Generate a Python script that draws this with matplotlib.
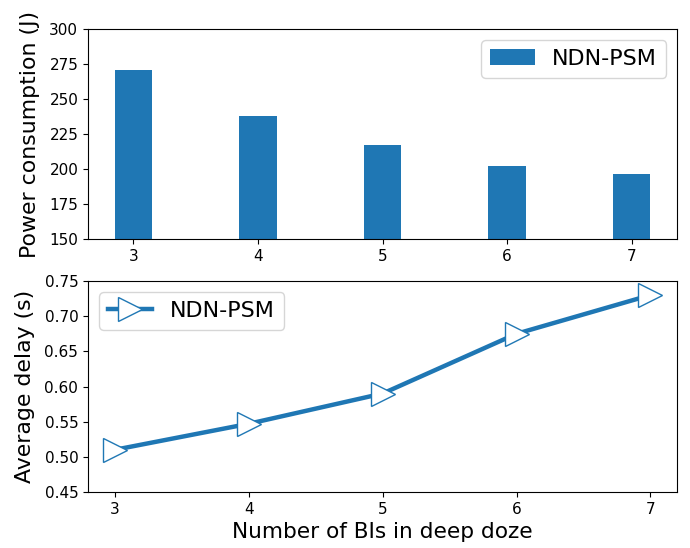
import numpy as np
import matplotlib
matplotlib.use('Agg')
import matplotlib.pyplot as plt

# data
bis = [3, 4, 5, 6, 7]
power = [271, 237.5, 217, 202, 196.5]
delay = [0.51, 0.547, 0.59, 0.675, 0.73]

fig = plt.figure(figsize=(6.9, 5.48), dpi=100)

# power consumption
ax1 = fig.add_axes([0.1275, 0.564, 0.854, 0.383])
ax1.bar(bis, power, width=0.3, color='#1f77b4', label='NDN-PSM')
ax1.set_ylim(150, 300)
ax1.set_xticks(bis)
ax1.tick_params(labelsize=11)
ax1.set_ylabel('Power consumption (J)', fontsize=15.8, labelpad=7)
ax1.legend(loc='upper right', fontsize=16)

# average delay
ax2 = fig.add_axes([0.1275, 0.1022, 0.854, 0.385])
ax2.plot(bis, delay, color='#1f77b4', linewidth=3.2, marker='>', markersize=17,
         markerfacecolor='white', markeredgecolor='#1f77b4', markeredgewidth=1,
         label='NDN-PSM')
ax2.set_ylim(0.45, 0.75)
ax2.set_xticks(bis)
ax2.tick_params(labelsize=11)
ax2.set_ylabel('Average delay (s)', fontsize=15.8, labelpad=7)
ax2.set_xlabel('Number of BIs in deep doze', fontsize=15.6)
ax2.legend(loc='upper left', fontsize=16)

plt.savefig('out.png')
